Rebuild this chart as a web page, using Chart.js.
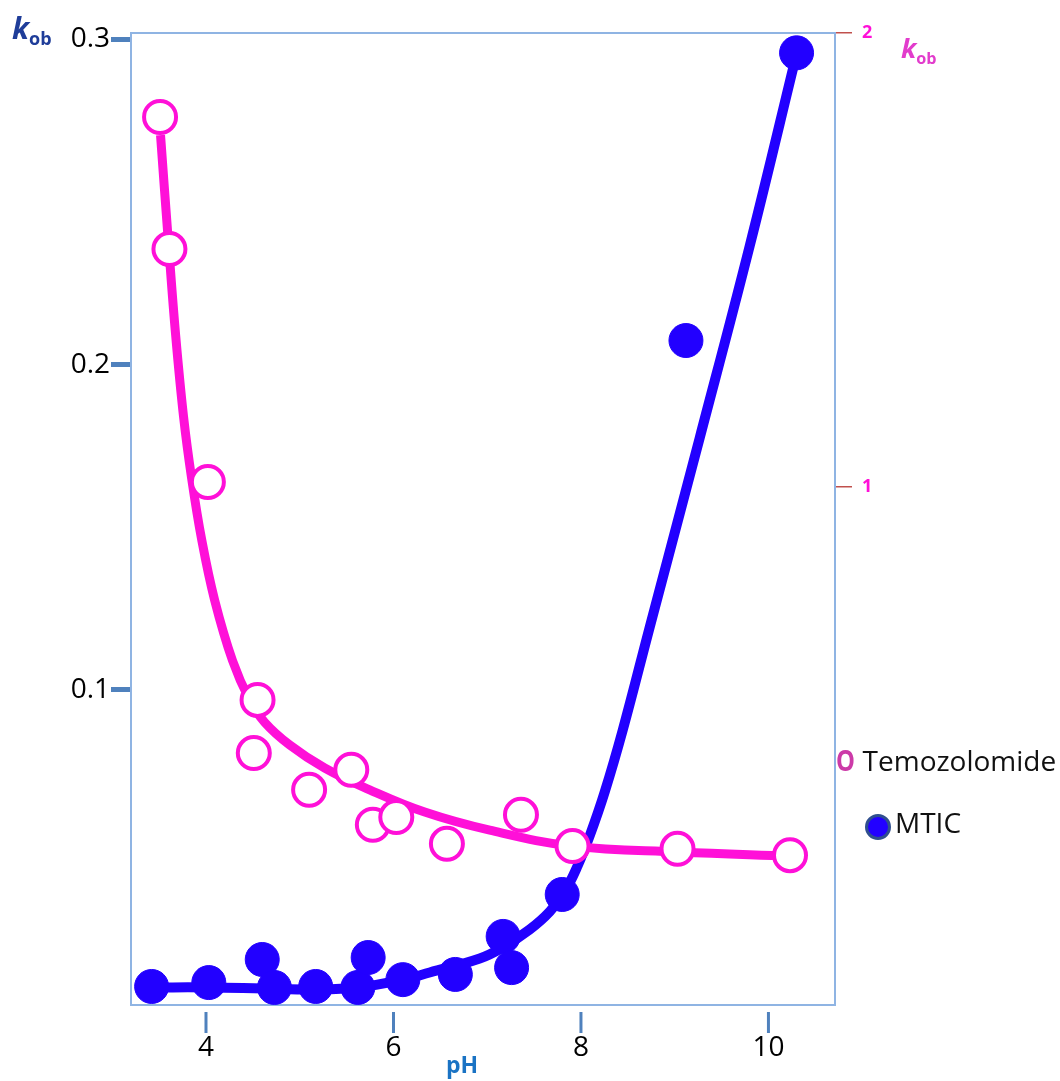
<!DOCTYPE html>
<html>
<head>
<meta charset="utf-8">
<script src="https://cdn.jsdelivr.net/npm/chart.js@4.4.1/dist/chart.umd.min.js"></script>
<style>
  html, body { margin: 0; padding: 0; background: #fff; }
  #wrap { position: relative; width: 1060px; height: 1081px; overflow: hidden; }
  #c { position: absolute; left: 0; top: 0; }
  .lbl { position: absolute; white-space: nowrap; font-family: "Open Sans", "Noto Sans", sans-serif; line-height: 1; }
  .kob { font-weight: bold; }
  .kob i { font-style: italic; }
  .kob sub { font-size: 0.6em; vertical-align: -0.35em; }
</style>
</head>
<body>
<div id="wrap">
  <canvas id="c" width="1060" height="1081"></canvas>
  <div class="lbl kob" style="left:12px; top:13px; font-size:30px; color:#1f3d99;"><i>k</i><sub>ob</sub></div>
  <div class="lbl kob" style="left:901px; top:34px; font-size:27px; color:#e23ccc;"><i>k</i><sub>ob</sub></div>
  <div class="lbl" style="left:446px; top:1053px; font-size:23px; font-weight:bold; color:#1a73c4;">pH</div>
  <div class="lbl" style="left:836px; top:746px; font-size:28px; color:#111;"><span style="font-weight:bold; color:#cc3aa8; display:inline-block; transform:scaleX(0.85); transform-origin:left;">O</span><span style="margin-left:-3px;"> Temozolomide</span></div>
  <div style="position:absolute; left:865px; top:814px; width:20px; height:20px; border-radius:50%; background:#2200ff; border:3px solid #2f4f8f;"></div>
  <div class="lbl" style="left:895px; top:808px; font-size:28px; color:#111;">MTIC</div>
</div>
<script>
// ---- data ----
const xTicks = [4, 6, 8, 10];
const yLeftTicks = [0.1, 0.2, 0.3];
const yRightTicks = [1, 2];

// Temozolomide (open circles, right axis)
const phTemo = [3.51, 3.61, 4.02, 4.55, 4.51, 5.10, 5.55, 5.78, 6.03, 6.57, 7.36, 7.91, 9.03, 10.23];
const kTemo  = [1.815, 1.524, 1.011, 0.531, 0.414, 0.333, 0.377, 0.256, 0.273, 0.214, 0.278, 0.209, 0.203, 0.189];
// Temozolomide fitted curve
const phTemoFit = [3.515, 3.601, 3.676, 3.761, 3.846, 3.953, 4.092, 4.284, 4.465, 4.625, 4.892, 5.266, 5.746, 6.333, 7.027, 7.912, 9.054, 10.228];
const kTemoFit  = [1.775, 1.533, 1.335, 1.154, 1.020, 0.885, 0.751, 0.617, 0.531, 0.482, 0.432, 0.381, 0.333, 0.284, 0.244, 0.209, 0.196, 0.187];

// MTIC (filled circles, left axis)
const phMtic = [3.42, 4.03, 4.60, 4.73, 5.17, 5.62, 5.73, 6.10, 6.66, 7.17, 7.26, 7.80, 9.12, 10.30];
const kMtic  = [0.0087, 0.0099, 0.0170, 0.0084, 0.0087, 0.0084, 0.0176, 0.0108, 0.0124, 0.0241, 0.0145, 0.0370, 0.2074, 0.2959];
// MTIC fitted curve
const phMticFit = [3.420, 4.028, 4.604, 5.170, 5.618, 6.098, 6.386, 6.920, 7.165, 7.453, 7.667, 7.827, 7.966, 8.094, 8.254, 8.446, 8.734, 9.268, 9.801, 10.303];
const kMticFit  = [0.0084, 0.0084, 0.0081, 0.0078, 0.0084, 0.0108, 0.0130, 0.0173, 0.0207, 0.0262, 0.0317, 0.0379, 0.0459, 0.0551, 0.0686, 0.0876, 0.1193, 0.1776, 0.2366, 0.2959];

const pts = (xs, ys) => xs.map((x, i) => ({ x: x, y: ys[i] }));

const PINK = '#ff10d8';
const BLUE = '#2200ff';
const TICKFONT = '"Open Sans", "Liberation Sans", sans-serif';

const framePlugin = {
  id: 'frame',
  beforeDatasetsDraw(chart) {
    const a = chart.chartArea, ctx = chart.ctx;
    ctx.save();
    ctx.strokeStyle = '#8fb4e3';
    ctx.lineWidth = 2;
    ctx.strokeRect(a.left, a.top, a.right - a.left, a.bottom - a.top);
    // x-axis tick marks, detached from the frame as in the reference
    const xs = chart.scales.x;
    ctx.strokeStyle = '#4f81bd';
    ctx.lineWidth = 3;
    xs.ticks.forEach(t => {
      const px = xs.getPixelForValue(t.value);
      ctx.beginPath();
      ctx.moveTo(px, a.bottom + 7);
      ctx.lineTo(px, a.bottom + 28);
      ctx.stroke();
    });
    ctx.restore();
  }
};

new Chart(document.getElementById('c'), {
  type: 'scatter',
  data: {
    datasets: [
      { label: 'Temozolomide', data: pts(phTemo, kTemo), yAxisID: 'y1', order: 0,
        pointRadius: 16, pointBorderWidth: 4, pointBorderColor: PINK, pointBackgroundColor: '#ffffff',
        showLine: false, clip: false },
      { label: 'MTIC', data: pts(phMtic, kMtic), yAxisID: 'y', order: 1,
        pointRadius: 17, pointBorderWidth: 1, pointBorderColor: BLUE, pointBackgroundColor: BLUE,
        showLine: false, clip: false },
      { label: 'Temozolomide fit', data: pts(phTemoFit, kTemoFit), yAxisID: 'y1', order: 2,
        showLine: true, borderColor: PINK, borderWidth: 9, pointRadius: 0, tension: 0.4,
        fill: false, clip: false },
      { label: 'MTIC fit', data: pts(phMticFit, kMticFit), yAxisID: 'y', order: 3,
        showLine: true, borderColor: BLUE, borderWidth: 10, pointRadius: 0, tension: 0.4,
        fill: false, clip: false }
    ]
  },
  options: {
    responsive: false,
    animation: false,
    events: [],
    layout: { padding: { top: 33, left: 0, right: 0, bottom: 0 } },
    plugins: { legend: { display: false }, tooltip: { enabled: false } },
    scales: {
      x: {
        type: 'linear', position: 'bottom', min: 3.2, max: 10.71,
        afterBuildTicks: s => { s.ticks = xTicks.map(v => ({ value: v })); },
        afterFit: s => { s.height = 76; },
        border: { display: false },
        grid: { display: false, drawTicks: false },
        ticks: { color: '#000', font: { family: TICKFONT, size: 28 }, padding: 26 }
      },
      y: {
        type: 'linear', position: 'left', min: 0.003, max: 0.302,
        afterBuildTicks: s => { s.ticks = yLeftTicks.map(v => ({ value: v })); },
        afterFit: s => { s.width = 131; },
        border: { display: false },
        grid: { drawOnChartArea: false, drawTicks: true, tickLength: 20, color: '#4f81bd', lineWidth: 5 },
        ticks: { color: '#000', font: { family: TICKFONT, size: 28 }, padding: 1,
                 callback: v => v.toFixed(1) }
      },
      y1: {
        type: 'linear', position: 'right', min: -0.141, max: 2,
        afterBuildTicks: s => { s.ticks = yRightTicks.map(v => ({ value: v })); },
        afterFit: s => { s.width = 225; },
        border: { display: false },
        grid: { drawOnChartArea: false, drawTicks: true, tickLength: 17, color: '#c0504d', lineWidth: 1.5 },
        ticks: { color: '#ff10d8', font: { family: '"Open Sans", sans-serif', size: 18, weight: 'bold' }, padding: 10,
                 callback: v => String(v) }
      }
    }
  },
  plugins: [framePlugin]
});
</script>
</body>
</html>
